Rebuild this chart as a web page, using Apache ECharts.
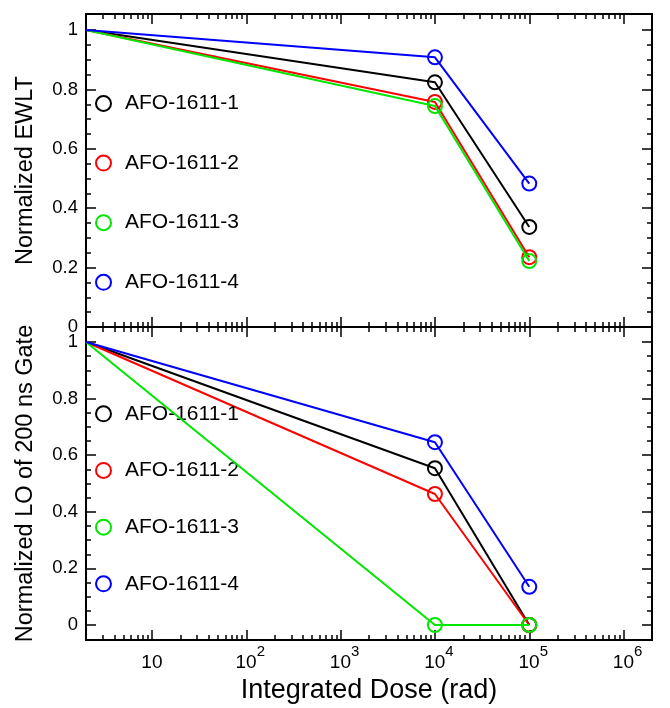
<!DOCTYPE html>
<html><head><meta charset="utf-8">
<script src="https://cdn.jsdelivr.net/npm/echarts@6/dist/echarts.min.js"></script>
<style>html,body{margin:0;padding:0;background:#fff}#c{width:670px;height:708px}</style>
</head><body><div id="c"></div>
<script>
// ---- data ----
const doses = [2, 1e4, 1e5];
const seriesNames = ['AFO-1611-1', 'AFO-1611-2', 'AFO-1611-3', 'AFO-1611-4'];
const ewlt1 = [1, 0.824, 0.337];
const ewlt2 = [1, 0.758, 0.235];
const ewlt3 = [1, 0.744, 0.222];
const ewlt4 = [1, 0.908, 0.483];
const lo1 = [1, 0.554, 0];
const lo2 = [1, 0.463, 0];
const lo3 = [1, 0, 0];
const lo4 = [1, 0.646, 0.135];
const xMajorTicks = [10, 100, 1e3, 1e4, 1e5, 1e6];
const xMinorTicks = [3, 4, 5, 6, 7, 8, 9,
  20, 30, 40, 50, 60, 70, 80, 90,
  200, 300, 400, 500, 600, 700, 800, 900,
  2e3, 3e3, 4e3, 5e3, 6e3, 7e3, 8e3, 9e3,
  2e4, 3e4, 4e4, 5e4, 6e4, 7e4, 8e4, 9e4,
  2e5, 3e5, 4e5, 5e5, 6e5, 7e5, 8e5, 9e5];
const yMajorTicks = [0, 0.2, 0.4, 0.6, 0.8, 1];
const yMinorTicks = [0.05, 0.1, 0.15, 0.25, 0.3, 0.35, 0.45, 0.5, 0.55, 0.65, 0.7, 0.75, 0.85, 0.9, 0.95];
const xTitle = 'Integrated Dose (rad)';
const yTitles = ['Normalized EWLT', 'Normalized LO of 200 ns Gate'];
const colors = ['#000000', '#ff0000', '#00e600', '#0000ff'];

const FONT = '"Liberation Sans", Arial, sans-serif';
const chart = echarts.init(document.getElementById('c'), null, {renderer: 'canvas'});

const lineAx = {show: true, onZero: false, lineStyle: {color: '#000', width: 2}};
const tickStyle = {color: '#000', width: 1.5};

function xAxes(g, withLabels) {
  const base = {type: 'log', logBase: 10, gridIndex: g, min: 2, max: 2e6,
    axisLine: lineAx, splitLine: {show: false}, minorTick: {show: false}, minorSplitLine: {show: false}};
  const major = {...base, position: 'bottom',
    axisTick: {inside: true, length: 10, customValues: xMajorTicks, lineStyle: tickStyle},
    axisLabel: {show: false}};
  if (withLabels) {
    major.axisLabel = {
      show: true, customValues: xMajorTicks, margin: 4, color: '#000', fontFamily: FONT,
      formatter: function (v) {
        const e = Math.round(Math.log10(v));
        return e === 1 ? '{b|10}' : '{e|10}{s|' + e + '}';
      },
      rich: {
        b: {fontSize: 19, lineHeight: 38, fontFamily: FONT, color: '#000'},
        e: {fontSize: 19, lineHeight: 38, fontFamily: FONT, color: '#000', padding: [0, 0, 0, 8]},
        s: {fontSize: 15, lineHeight: 15, verticalAlign: 'top', fontFamily: FONT, color: '#000'}
      }
    };
    major.name = xTitle;
    major.nameLocation = 'middle';
    major.nameGap = 37;
    major.nameTextStyle = {fontSize: 27, color: '#000', fontFamily: FONT};
  }
  return [
    major,
    {...base, position: 'bottom', axisTick: {inside: true, length: 5, customValues: xMinorTicks, lineStyle: tickStyle}, axisLabel: {show: false}},
    {...base, position: 'top', axisTick: {inside: true, length: 10, customValues: xMajorTicks, lineStyle: tickStyle}, axisLabel: {show: false}},
    {...base, position: 'top', axisTick: {inside: true, length: 5, customValues: xMinorTicks, lineStyle: tickStyle}, axisLabel: {show: false}}
  ];
}

function yAxes(g, min, max, title) {
  const base = {type: 'value', gridIndex: g, min: min, max: max,
    axisLine: lineAx, splitLine: {show: false}, minorTick: {show: false}};
  return [
    {...base, position: 'left',
      axisTick: {inside: true, length: 10, customValues: yMajorTicks, lineStyle: tickStyle},
      axisLabel: {customValues: yMajorTicks, fontSize: 18.5, margin: 8, color: '#000', fontFamily: FONT},
      name: title, nameLocation: 'middle', nameGap: 48,
      nameTextStyle: {fontSize: 23.5, color: '#000', fontFamily: FONT}},
    {...base, position: 'left', axisTick: {inside: true, length: 5, customValues: yMinorTicks, lineStyle: tickStyle}, axisLabel: {show: false}},
    {...base, position: 'right', axisTick: {inside: true, length: 10, customValues: yMajorTicks, lineStyle: tickStyle}, axisLabel: {show: false}},
    {...base, position: 'right', axisTick: {inside: true, length: 5, customValues: yMinorTicks, lineStyle: tickStyle}, axisLabel: {show: false}}
  ];
}

const panels = [[ewlt1, ewlt2, ewlt3, ewlt4], [lo1, lo2, lo3, lo4]];
const series = [];
panels.forEach(function (vals, g) {
  vals.forEach(function (ys, i) {
    series.push({
      type: 'line', name: seriesNames[i], xAxisIndex: g * 4, yAxisIndex: g * 4,
      data: doses.map(function (d, k) { return k === 0 ? {value: [d, ys[k]], symbol: 'none'} : [d, ys[k]]; }),
      symbol: 'circle', symbolSize: 14, showSymbol: true,
      lineStyle: {color: colors[i], width: 2},
      itemStyle: {color: 'rgba(0,0,0,0)', borderColor: colors[i], borderWidth: 2},
      emphasis: {disabled: true}, z: 2 + i
    });
  });
});

function legendFor(top, gap) {
  return {
    orient: 'vertical', left: 95, top: top, padding: 0, itemGap: gap,
    itemWidth: 15, itemHeight: 15, selectedMode: false,
    textStyle: {fontSize: 21, color: '#000', fontFamily: FONT, lineHeight: 20, padding: [0, 0, 0, 9]},
    data: seriesNames.map(function (n, i) {
      return {name: n, icon: 'circle', itemStyle: {color: 'rgba(0,0,0,0)', borderColor: colors[i], borderWidth: 2}};
    })
  };
}

chart.setOption({
  animation: false,
  backgroundColor: '#fff',
  textStyle: {fontFamily: FONT},
  grid: [
    {left: 86, right: 18, top: 14, height: 313},
    {left: 86, right: 18, top: 327, height: 313}
  ],
  xAxis: xAxes(0, false).concat(xAxes(1, true)),
  yAxis: yAxes(0, 0, 1.054, yTitles[0]).concat(yAxes(1, -0.053, 1.053, yTitles[1])),
  legend: [legendFor(93, 38.6), legendFor(403.3, 35.67)],
  series: series
});
</script></body></html>
